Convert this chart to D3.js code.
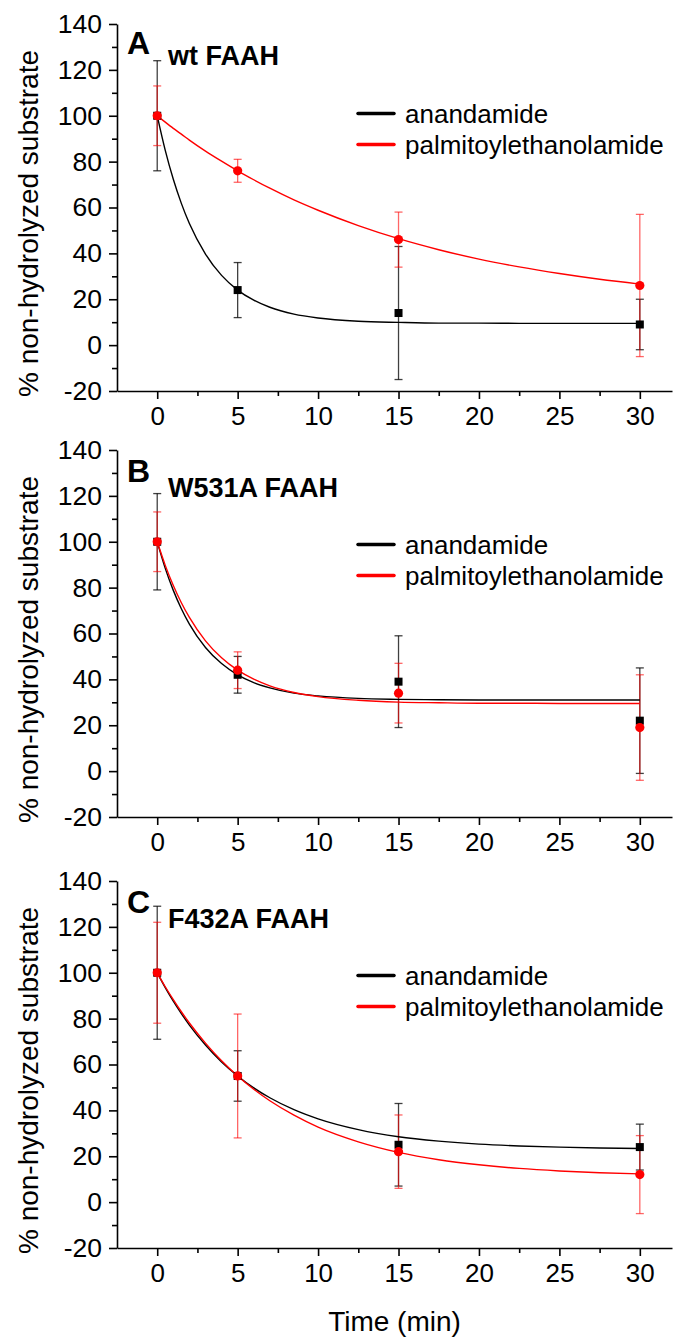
<!DOCTYPE html>
<html>
<head>
<meta charset="utf-8">
<script src="https://cdn.jsdelivr.net/npm/d3@7"></script>
<style>
    html, body { margin: 0; padding: 0; background: #fff; }
    svg { display: block; }
    text { font-family: "Liberation Sans", Arial, sans-serif; fill: #000; }
</style>
</head>
<body>
<div id="chart"></div>
<script>
const times = [0, 5, 15, 30];
const seriesNames = ["anandamide", "palmitoylethanolamide"];
const panelLetters = ["A", "B", "C"];
const panelTitles = ["wt FAAH", "W531A FAAH", "F432A FAAH"];

const anandamideMeans = [[100, 24, 14, 9], [100, 42, 39, 22], [100, 55, 25, 24]];
const anandamideErrors = [[24, 12, 29, 11], [21, 8, 20, 23], [29, 11, 18, 10]];
const palmitoylMeans = [[100, 76, 46, 26], [100, 44, 34, 19], [100, 55, 22, 12]];
const palmitoylErrors = [[13, 5, 12, 31], [13, 8, 13, 23], [22, 27, 16, 17]];

// fitted decay curves
const fitTimes = [0, 0.5, 1, 1.5, 2, 3, 4, 5, 6, 7, 8.5, 10, 12.5, 15, 17.5, 20, 22.5, 25, 27.5, 30];
const anandamideFits = [
    [100, 84.9, 72.3, 61.8, 53.0, 39.7, 30.4, 24.0, 19.6, 16.5, 13.5, 11.8, 10.4, 9.9, 9.6, 9.6, 9.5, 9.5, 9.5, 9.5],
    [100, 88.4, 78.8, 70.8, 64.1, 53.9, 46.9, 42.0, 38.6, 36.3, 34.0, 32.8, 31.7, 31.3, 31.1, 31.0, 31.0, 31.0, 31.0, 31.0],
    [100, 93.5, 87.6, 82.2, 77.2, 68.5, 61.1, 55.0, 49.8, 45.5, 40.3, 36.3, 31.6, 28.5, 26.6, 25.3, 24.5, 24.0, 23.6, 23.4],
];
const palmitoylFits = [
    [100, 97.2, 94.5, 92.0, 89.4, 84.6, 80.2, 76.0, 72.1, 68.4, 63.3, 58.8, 52.1, 46.4, 41.6, 37.5, 34.1, 31.2, 28.7, 26.6],
    [100, 89.7, 80.9, 73.4, 67.0, 56.8, 49.4, 44.0, 40.1, 37.2, 34.3, 32.5, 30.9, 30.1, 29.8, 29.6, 29.6, 29.5, 29.5, 29.5],
    [100, 93.9, 88.3, 83.0, 78.1, 69.3, 61.6, 55.0, 49.2, 44.2, 37.9, 32.7, 26.3, 21.7, 18.5, 16.3, 14.7, 13.6, 12.8, 12.3],
];

const xMajorTicks = [0, 5, 10, 15, 20, 25, 30];
const xMinorTicks = [2.5, 7.5, 12.5, 17.5, 22.5, 27.5];
const yMajorTicks = [-20, 0, 20, 40, 60, 80, 100, 120, 140];
const yMinorTicks = [-10, 10, 30, 50, 70, 90, 110, 130];

const yAxisTitle = "% non-hydrolyzed substrate";
const xAxisTitle = "Time (min)";

const outerWidth = 673;
const outerHeight = 1337;
const panelTops = [24, 450, 881];
const panelHeight = 367;
const legendOffsets = [89.5, 94.5, 94.5];
const seriesColors = ["#000000", "#ff0000"];
const errorColors = ["rgba(0,0,0,0.75)", "rgba(255,0,0,0.6)"];

const svg = d3.select("#chart")
    .append("svg")
    .attr("width", outerWidth)
    .attr("height", outerHeight)
    .attr("viewBox", `0 0 ${outerWidth} ${outerHeight}`);

const x = d3.scaleLinear()
    .domain([-2.5, 32])
    .range([117, 672]);

function drawPanel(index) {
    const top = panelTops[index];
    const y = d3.scaleLinear()
        .domain([-20, 140])
        .range([top + panelHeight, top]);
    const g = svg.append("g");

    // axes
    const xAxis = g.append("g")
        .attr("transform", `translate(0, ${top + panelHeight})`)
        .call(d3.axisBottom(x).tickValues(xMajorTicks).tickSize(8).tickPadding(8).tickSizeOuter(0)
            .tickFormat((d) => String(d)));
    xAxis.selectAll("text").attr("font-size", 26).attr("font-family", null);
    g.append("g")
        .attr("transform", `translate(0, ${top + panelHeight})`)
        .call(d3.axisBottom(x).tickValues(xMinorTicks).tickSize(5).tickFormat("").tickSizeOuter(0))
        .call((a) => a.select(".domain").remove());

    const yAxis = g.append("g")
        .attr("transform", `translate(${x.range()[0]}, 0)`)
        .call(d3.axisLeft(y).tickValues(yMajorTicks).tickSize(8).tickPadding(7).tickSizeOuter(0)
            .tickFormat((d) => String(d)));
    yAxis.selectAll("text").attr("font-size", 26.5).attr("font-family", null);
    g.append("g")
        .attr("transform", `translate(${x.range()[0]}, 0)`)
        .call(d3.axisLeft(y).tickValues(yMinorTicks).tickSize(5).tickFormat("").tickSizeOuter(0))
        .call((a) => a.select(".domain").remove());

    g.selectAll(".domain, .tick line").attr("stroke", "#000").attr("stroke-width", 1.6);

    // y title
    g.append("text")
        .attr("transform", `translate(38, ${top + panelHeight / 2 + 16}) rotate(-90)`)
        .attr("text-anchor", "middle")
        .attr("font-size", 28)
        .text(yAxisTitle);

    // panel labels
    g.append("text")
        .attr("x", 127)
        .attr("y", top + (index === 0 ? 29.5 : 31.5))
        .attr("font-size", 32)
        .attr("font-weight", "bold")
        .text(panelLetters[index]);
    g.append("text")
        .attr("x", 168)
        .attr("y", top + (index === 0 ? 40.5 : 46.5))
        .attr("font-size", 27)
        .attr("font-weight", "bold")
        .text(panelTitles[index]);

    const series = [
        {means: anandamideMeans[index], errors: anandamideErrors[index], fit: anandamideFits[index]},
        {means: palmitoylMeans[index], errors: palmitoylErrors[index], fit: palmitoylFits[index]},
    ];

    // error bars
    series.forEach((s, si) => {
        const rows = times.map((t, i) => ({t, mean: s.means[i], err: s.errors[i]}));
        const eb = g.append("g")
            .attr("stroke", errorColors[si])
            .attr("stroke-width", 1.3)
            .attr("fill", "none");
        eb.selectAll(".stem")
            .data(rows)
            .enter()
            .append("line")
            .attr("x1", (d) => x(d.t))
            .attr("x2", (d) => x(d.t))
            .attr("y1", (d) => y(d.mean + d.err))
            .attr("y2", (d) => y(d.mean - d.err));
        [1, -1].forEach((sign) => {
            eb.selectAll(".cap" + sign)
                .data(rows)
                .enter()
                .append("line")
                .attr("x1", (d) => x(d.t) - 4)
                .attr("x2", (d) => x(d.t) + 4)
                .attr("y1", (d) => y(d.mean + sign * d.err))
                .attr("y2", (d) => y(d.mean + sign * d.err));
        });
    });

    // fitted curves
    const line = d3.line()
        .x((d) => x(d[0]))
        .y((d) => y(d[1]))
        .curve(d3.curveMonotoneX);
    series.forEach((s, si) => {
        g.append("path")
            .datum(fitTimes.map((t, i) => [t, s.fit[i]]))
            .attr("fill", "none")
            .attr("stroke", seriesColors[si])
            .attr("stroke-width", 1.4)
            .attr("d", line);
    });

    // markers
    g.selectAll(".sq")
        .data(times.map((t, i) => ({t, v: series[0].means[i]})))
        .enter()
        .append("rect")
        .attr("x", (d) => x(d.t) - 4)
        .attr("y", (d) => y(d.v) - 4)
        .attr("width", 8)
        .attr("height", 8)
        .attr("fill", seriesColors[0]);
    g.selectAll(".dot")
        .data(times.map((t, i) => ({t, v: series[1].means[i]})))
        .enter()
        .append("circle")
        .attr("cx", (d) => x(d.t))
        .attr("cy", (d) => y(d.v))
        .attr("r", 4.6)
        .attr("fill", seriesColors[1]);

    // legend
    const legend = g.append("g")
        .attr("transform", `translate(356, ${top + legendOffsets[index]})`);
    seriesNames.forEach((name, si) => {
        legend.append("line")
            .attr("x1", 2)
            .attr("x2", 38)
            .attr("y1", si * 31)
            .attr("y2", si * 31)
            .attr("stroke", seriesColors[si])
            .attr("stroke-width", 3.5)
            .attr("stroke-linecap", "round");
        legend.append("text")
            .attr("x", 49)
            .attr("y", si * 31 + 9)
            .attr("font-size", 26)
            .text(name);
    });
}

panelLetters.forEach((letter, index) => drawPanel(index));

svg.append("text")
    .attr("x", (x.range()[0] + x.range()[1]) / 2)
    .attr("y", 1331)
    .attr("text-anchor", "middle")
    .attr("font-size", 28)
    .text(xAxisTitle);
</script>
</body>
</html>
